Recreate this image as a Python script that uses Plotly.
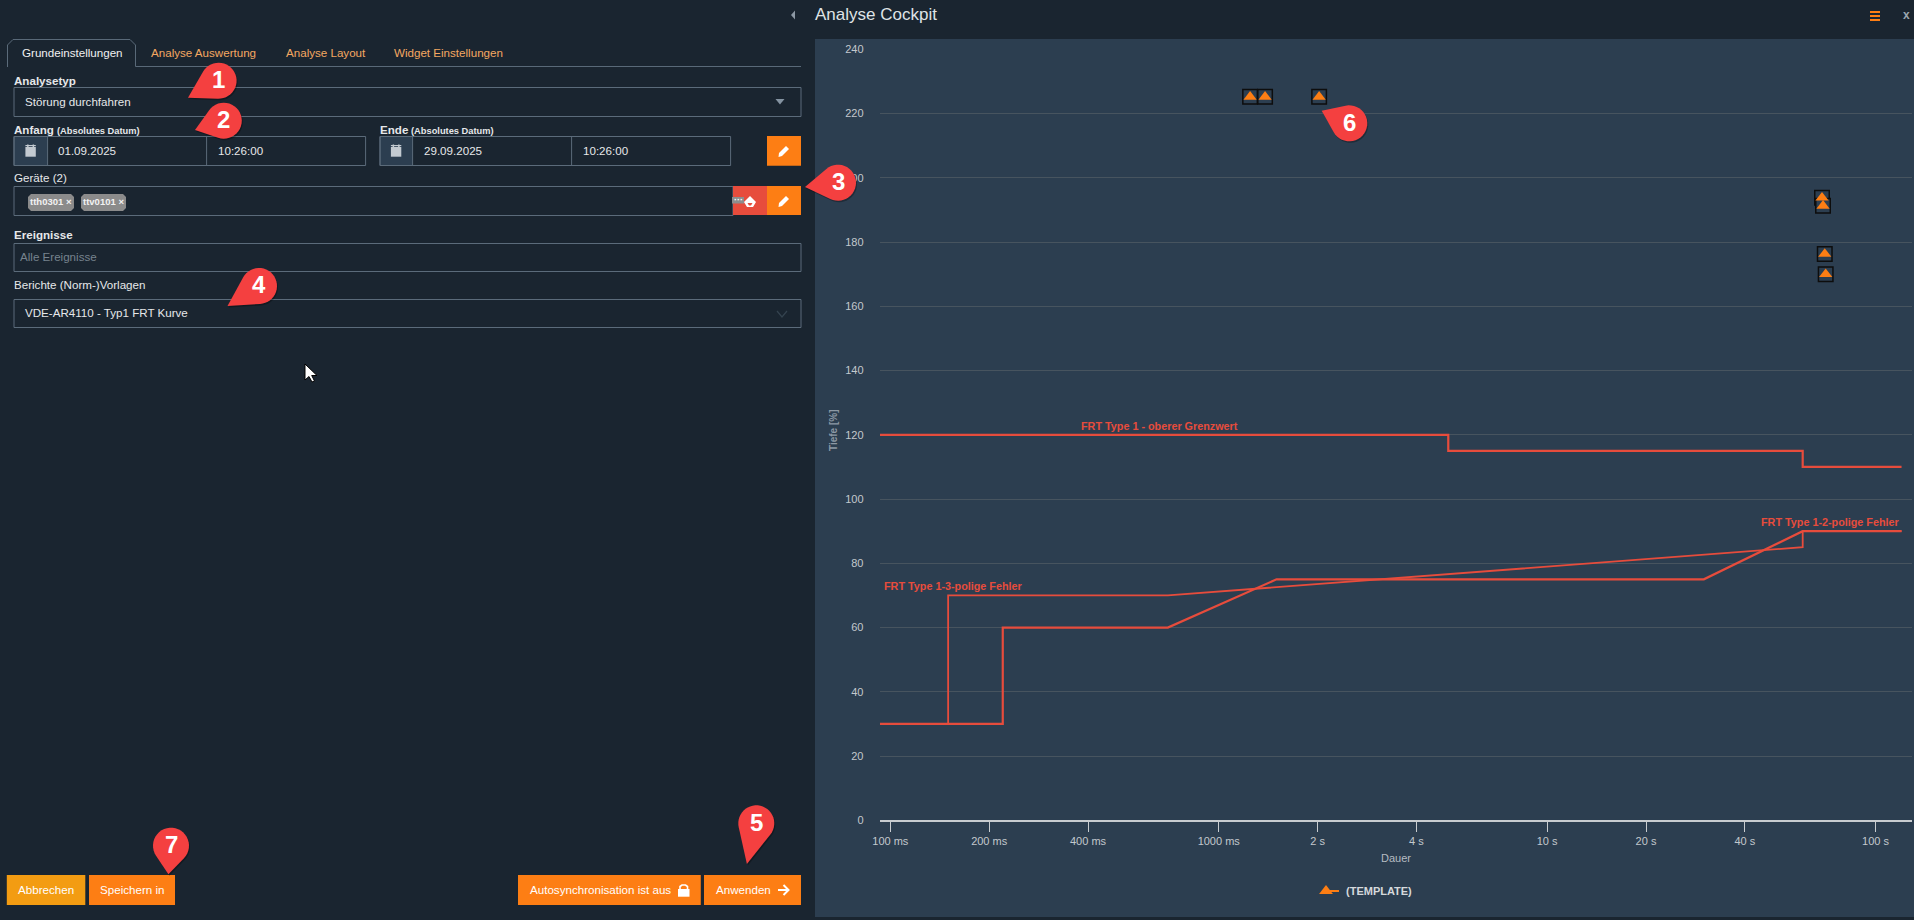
import math
import plotly.graph_objects as go

W, H = 1914, 920

# ---------- chart data ----------
dauer_oben_ms = [93, 5000, 5000, 60000, 60000, 120000]
tiefe_oben = [120, 120, 115, 115, 110, 110]
dauer_3pol_ms = [93, 150, 150, 700, 60000, 60000, 120000]
tiefe_3pol = [30, 30, 70, 70, 85, 90, 90]
dauer_2pol_ms = [93, 220, 220, 700, 1500, 30000, 60000, 120000]
tiefe_2pol = [30, 30, 60, 60, 75, 75, 90, 90]
template_dauer_ms = [1246, 1384, 2022, 68700, 69200, 70040, 70500]
template_tiefe = [225.2, 225.2, 225.2, 193.8, 191.3, 176.3, 170.0]
x_ticks_ms = [100, 200, 400, 1000, 2000, 4000, 10000, 20000, 40000, 100000]
x_tick_labels = ["100 ms", "200 ms", "400 ms", "1000 ms", "2 s", "4 s", "10 s", "20 s", "40 s", "100 s"]
y_ticks = [0, 20, 40, 60, 80, 100, 120, 140, 160, 180, 200, 220, 240]
curve_labels = ["FRT Type 1 - oberer Grenzwert", "FRT Type 1-3-polige Fehler", "FRT Type 1-2-polige Fehler"]
curve_label_ms = [658, 156, 72700]
curve_label_tiefe = [120, 70, 90]

# ---------- palette ----------
BG = "#1a2530"
PANEL = "#2c3e50"
BORDER = "#5b6b7a"
ORANGE = "#fd7e14"
RED = "#e74c3c"
PIN = "#f44040"
TXT = "#e6e8ea"
FONT = "Liberation Sans, Arial, sans-serif"

shapes, notes = [], []
px = lambda x: x / W
py = lambda y: 1 - y / H


def rect(x0, y0, x1, y1, fill="rgba(0,0,0,0)", line=None, lw=1, layer="below"):
    shapes.append(dict(type="rect", xref="paper", yref="paper", x0=px(x0), x1=px(x1), y0=py(y1), y1=py(y0),
                       fillcolor=fill, line=dict(color=line or "rgba(0,0,0,0)", width=lw if line else 0), layer=layer))


def poly(points, fill="rgba(0,0,0,0)", line=None, lw=1, layer="above", close=True):
    d = "M" + " L".join(f"{px(a):.5f},{py(b):.5f}" for a, b in points) + (" Z" if close else "")
    shapes.append(dict(type="path", xref="paper", yref="paper", path=d, fillcolor=fill,
                       line=dict(color=line or "rgba(0,0,0,0)", width=lw if line else 0), layer=layer))


def text(s, x, y, size=11.6, color=TXT, anchor="left", bold=False, angle=0):
    notes.append(dict(xref="paper", yref="paper", x=px(x), y=py(y), text=f"<b>{s}</b>" if bold else s,
                      showarrow=False, xanchor=anchor, yanchor="middle", borderpad=0, textangle=angle,
                      font=dict(family=FONT, size=size, color=color)))


def ptext(s, x, y, **kw):
    text(s, x - 0.8, y - 0.8, **kw)


def pin(cx, cy, tx, ty, label, r=18):
    d = math.hypot(tx - cx, ty - cy)
    th = math.atan2(ty - cy, tx - cx)
    ph = math.acos(r / d)
    n = 28
    arc = [th + ph + (2 * math.pi - 2 * ph) * i / n for i in range(n + 1)]
    pts = [(cx + r * math.cos(a), cy + r * math.sin(a)) for a in arc]
    poly([(a + 1, b + 1.5) for a, b in pts + [(tx, ty)]], fill="rgba(0,0,0,0.28)")
    poly(pts + [(tx, ty)], fill=PIN)
    text(label, cx, cy - 1.2, size=24, color="#ffffff", anchor="center", bold=True)


def pencil(cx, cy):
    poly([(cx - 5, cy + 6), (cx - 4.5, cy + 2), (cx + 2.5, cy - 5), (cx + 5.5, cy - 2), (cx - 1.5, cy + 5)], fill="#ffffff")


def button(x0, x1, y0, y1, fill):
    rect(x0, y0, x1, y1, fill=fill)


# ---------- page chrome ----------
rect(0, 0, W, H, fill=BG)
rect(815, 39, W, 917, fill=PANEL)
poly([(795, 10.5), (795, 19.5), (791, 15)], fill="#8d99a5", layer="below")
text("Analyse Cockpit", 814, 15, size=17, color="#dfe3e6")
for yy in (12, 16, 20):
    rect(1870, yy - 1, 1880, yy + 1, fill=ORANGE)
text("x", 1906.5, 15, size=12, color="#9aa5af", anchor="center", bold=True)

# tabs
poly([(7.5, 67), (7.5, 45), (13, 39.5), (130, 39.5), (135.5, 45), (135.5, 66.5), (801, 66.5)],
     line=BORDER, close=False, layer="below")
ptext("Grundeinstellungen", 22, 53, color="#f0f0f0")
tab_color = "#f4a862"
ptext("Analyse Auswertung", 151, 53, color=tab_color)
ptext("Analyse Layout", 285.6, 53, color=tab_color)
ptext("Widget Einstellungen", 394, 53, color=tab_color)

# Analysetyp
ptext("Analysetyp", 13.6, 81, bold=True)
rect(14, 87.5, 801, 116.5, line=BORDER)
ptext("Störung durchfahren", 25, 102)
poly([(775.5, 99), (784.5, 99), (780, 104.5)], fill="#8493a1", layer="below")

# Dates
for x_lab, x_sub, x0, xcal, xdiv, x1, xd, xt, d_txt, lab in (
    (13.6, 56.5, 14, 47.6, 206.6, 365.6, 58, 217.6, "01.09.2025", "Anfang"),
    (379.7, 411, 380, 412.6, 571.6, 730.6, 423.6, 583, "29.09.2025", "Ende"),
):
    ptext(lab, x_lab, 130, bold=True)
    ptext("(Absolutes Datum)", x_sub, 131.5, size=9.3, bold=True)
    rect(x0, 136.5, xcal, 165.5, fill=PANEL, line=BORDER)
    rect(x0, 136.5, x1, 165.5, line=BORDER)
    shapes.append(dict(type="line", xref="paper", yref="paper", x0=px(xdiv), x1=px(xdiv), y0=py(136.5), y1=py(165.5),
                       line=dict(color=BORDER, width=1), layer="below"))
    ptext(d_txt, xd, 151)
    ptext("10:26:00", xt, 151)
    cx = (x0 + xcal) / 2 - 0.2
    rect(cx - 5.2, 147, cx + 5.2, 156.7, fill="#c3cad1")
    rect(cx - 5.2, 145, cx + 5.2, 146.2, fill="#c3cad1")
    rect(cx - 3.5, 144.5, cx - 2, 147, fill="#c3cad1")
    rect(cx + 2, 144.5, cx + 3.5, 147, fill="#c3cad1")
button(767, 801, 136, 165.7, ORANGE)
pencil(783.5, 151)

# Geräte
ptext("Geräte (2)", 13.6, 178.7)
rect(14, 186.5, 733, 215.5, line=BORDER)
for x0, x1, t in ((28, 74, "tth0301 ×"), (81, 126, "ttv0101 ×")):
    poly([(x0 + 3, 194), (x1 - 3, 194), (x1, 197), (x1, 208), (x1 - 3, 211), (x0 + 3, 211), (x0, 208), (x0, 197)],
         fill="#8b8b8b", layer="below")
    text(t, (x0 + x1) / 2, 201.7, size=9.5, color="#f2f2f2", anchor="center", bold=True)
button(733, 767, 186, 215, RED)
button(767, 801, 186, 215, ORANGE)
pencil(783.5, 201)
poly([(750, 196), (756, 202), (753, 207), (747, 207), (744, 202)], fill="#ffffff")
poly([(747.5, 203), (752.5, 203), (751, 205.5), (749, 205.5)], fill=RED)
rect(732, 197, 744, 203.5, fill="#8d8d8d", layer="above")
text("···", 738, 199.5, size=9, color="#ffffff", anchor="center", bold=True)

# Ereignisse
ptext("Ereignisse", 13.6, 235.7, bold=True)
rect(14, 243.5, 801, 271.5, line=BORDER)
ptext("Alle Ereignisse", 20, 257, color="#77838e")

# Vorlagen
ptext("Berichte (Norm-)Vorlagen", 13.6, 285)
rect(14, 299.5, 801, 327.5, line=BORDER)
ptext("VDE-AR4110 - Typ1 FRT Kurve", 25, 313.6)
poly([(777, 311), (782, 317), (787, 311)], line="#34434f", lw=1.2, close=False, layer="below")

# Mouse cursor
poly([(305, 364), (305, 380), (309, 376.5), (312, 382), (314.5, 381), (311.7, 375.5), (317, 375.5)],
     fill="#ffffff", line="#000000", lw=1)

# Bottom buttons
button(6.8, 85.3, 875, 905, "#f39c12")
button(89, 175, 875, 905, ORANGE)
button(518, 700.8, 875, 905, ORANGE)
button(704, 801, 875, 905, ORANGE)
text("Abbrechen", 46, 889, color="#ffffff", anchor="center")
text("Speichern in", 132, 889, color="#ffffff", anchor="center")
text("Autosynchronisation ist aus", 528.5, 889, color="#ffffff")
text("Anwenden", 714.8, 889, color="#ffffff")
rect(678, 889, 689.5, 896.7, fill="#ffffff", layer="above")
poly([(680, 889), (680, 886.5), (682, 885), (685.5, 885), (687.5, 886.5), (687.5, 889)], line="#ffffff", lw=1.6, close=False)
poly([(778, 890), (788.5, 890)], line="#ffffff", lw=2, close=False)
poly([(783.5, 885), (788.5, 890), (783.5, 895)], line="#ffffff", lw=2, close=False)

# Axis texts and legend stroke
text("Tiefe [%]", 833, 430, size=10, color="#8d99a5", anchor="center", bold=True, angle=-90)
text("Dauer", 1396, 858, size=11, color="#b6bcc2", anchor="center")
poly([(1322, 891), (1339, 891)], line=ORANGE, lw=2, close=False)

# Callouts
pin(218.6, 80.7, 188, 97.7, "1")
pin(223.8, 120.7, 195, 130, "2")
pin(838, 182.7, 805, 187, "3")
pin(259, 286, 227.5, 306, "4")
pin(756.3, 823.3, 746.9, 864, "5")
pin(1349.3, 123.3, 1321.7, 110.7, "6")
pin(171, 845.7, 168.4, 874.3, "7")

# ---------- traces ----------
fig = go.Figure()
for xs, ys, w in ((dauer_oben_ms, tiefe_oben, 2.2), (dauer_3pol_ms, tiefe_3pol, 1.8), (dauer_2pol_ms, tiefe_2pol, 2.2)):
    fig.add_trace(go.Scatter(x=xs, y=ys, mode="lines", line=dict(color=RED, width=w), showlegend=False, hoverinfo="skip"))
fig.add_trace(go.Scatter(x=template_dauer_ms, y=template_tiefe, mode="markers", showlegend=False, hoverinfo="skip",
                         marker=dict(symbol="square", size=14.5, color=PANEL, line=dict(color="#0d0d0d", width=1.5))))
fig.add_trace(go.Scatter(x=template_dauer_ms, y=template_tiefe, mode="markers", name="<b>(TEMPLATE)</b>",
                         hoverinfo="skip", marker=dict(symbol="triangle-up", size=11.5, color=ORANGE)))

for s, xv, yv in zip(curve_labels, curve_label_ms, curve_label_tiefe):
    notes.append(dict(xref="x", yref="y", x=math.log10(xv), y=yv, yshift=9, text=f"<b>{s}</b>", showarrow=False,
                      xanchor="center", yanchor="middle", borderpad=0, font=dict(family=FONT, size=10.8, color=RED)))

fig.update_layout(
    template="none",
    width=W, height=H, margin=dict(l=0, r=0, t=0, b=0, pad=0), autosize=False,
    paper_bgcolor=BG, plot_bgcolor="rgba(0,0,0,0)",
    font=dict(family=FONT, color="#c3c8cd", size=11),
    shapes=shapes, annotations=notes,
    xaxis=dict(type="log", automargin=False, domain=[px(879.7), px(1912)], range=[1.9677, 5.111], tickmode="array",
               tickvals=x_ticks_ms, ticktext=x_tick_labels, ticks="outside", ticklen=10, tickcolor="#c8ccd0",
               tickwidth=1, showgrid=False, zeroline=False, showline=True, linecolor="#c8ccd0", linewidth=1.5,
               tickfont=dict(size=11, color="#c3c8cd"), anchor="y"),
    yaxis=dict(automargin=False, domain=[py(820.3), py(49.3)], range=[0, 240], tickmode="array", tickvals=y_ticks,
               ticks="outside", ticklen=13, tickcolor="rgba(0,0,0,0)", showgrid=True,
               gridcolor="#47545f", gridwidth=1, zeroline=False, showline=False,
               tickfont=dict(size=11, color="#c3c8cd"), anchor="x"),
    legend=dict(x=px(1306), y=py(891), xanchor="left", yanchor="middle", orientation="h",
                bgcolor="rgba(0,0,0,0)", font=dict(family=FONT, size=11, color="#d5d9dc"),
                itemsizing="constant"),
)

fig.write_html("out.html", config=dict(displayModeBar=False),
               post_script="document.body.style.margin='0';document.body.style.background='#1a2530';document.body.style.overflow='hidden';")
